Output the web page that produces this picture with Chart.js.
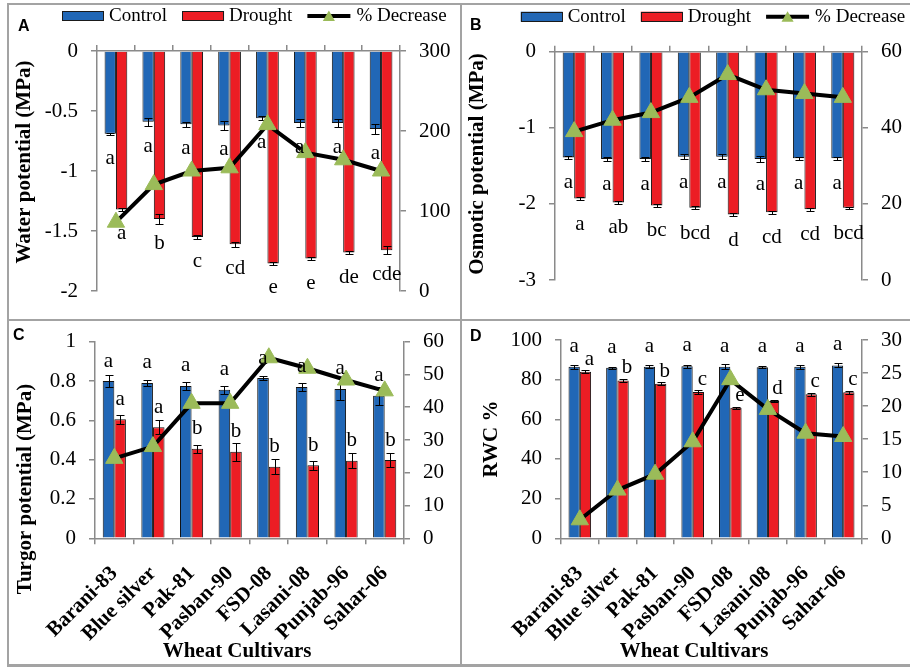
<!DOCTYPE html>
<html><head><meta charset="utf-8">
<script src="https://cdn.jsdelivr.net/npm/chart.js@4.4.0/dist/chart.umd.min.js"></script>
<style>
html,body{margin:0;padding:0;background:#fff;overflow:hidden;}
#wrap{position:relative;width:910px;height:667px;overflow:hidden;background:#fff;}
canvas{position:absolute;display:block;}
.ln{position:absolute;background:#a3a3a3;}
</style></head><body>
<div id="wrap">
<canvas id="cA" width="451" height="313" style="left:9px;top:5px"></canvas>
<canvas id="cB" width="446" height="313" style="left:462px;top:5px"></canvas>
<canvas id="cC" width="451" height="343" style="left:9px;top:321px"></canvas>
<canvas id="cD" width="446" height="343" style="left:462px;top:321px"></canvas>
<div class="ln" style="left:7px;top:3px;width:2px;height:663px"></div>
<div class="ln" style="left:7px;top:3px;width:903px;height:1.5px"></div>
<div class="ln" style="left:460px;top:3px;width:2px;height:663px"></div>
<div class="ln" style="left:7px;top:318.5px;width:903px;height:2px"></div>
<div class="ln" style="left:7px;top:664px;width:903px;height:3px"></div>
</div>
<script>
// ---------- data ----------
const categories = ['Barani-83','Blue silver','Pak-81','Pasban-90','FSD-08','Lasani-08','Punjab-96','Sahar-06'];
const seriesNames = ['Control','Drought','% Decrease'];

// A: water potential
const waterControl = [-0.69, -0.59, -0.61, -0.62, -0.56, -0.60, -0.60, -0.65];
const waterControlErr = [0.01, 0.035, 0.02, 0.04, 0.015, 0.035, 0.035, 0.045];
const waterDrought = [-1.32, -1.40, -1.55, -1.61, -1.77, -1.73, -1.68, -1.66];
const waterDroughtErr = [0.012, 0.04, 0.015, 0.02, 0.01, 0.01, 0.012, 0.035];
const waterDecrease = [86, 133, 150, 154, 208, 173, 164, 150];
const waterControlLetters = ['a','a','a','a','a','a','a','a'];
const waterDroughtLetters = ['a','b','c','cd','e','e','de','cde'];
const waterTicks = [-2, -1.5, -1, -0.5, 0];
const waterPctTicks = [0, 100, 200, 300];

// B: osmotic potential
const osmoControl = [-1.39, -1.41, -1.41, -1.38, -1.38, -1.41, -1.40, -1.40];
const osmoControlErr = [0.02, 0.03, 0.03, 0.03, 0.03, 0.04, 0.02, 0.02];
const osmoDrought = [-1.93, -1.98, -2.02, -2.05, -2.14, -2.11, -2.07, -2.05];
const osmoDroughtErr = [0.015, 0.015, 0.015, 0.02, 0.025, 0.02, 0.02, 0.015];
const osmoDecrease = [39, 42, 44, 48, 54, 50, 49, 48];
const osmoControlLetters = ['a','a','a','a','a','a','a','a'];
const osmoDroughtLetters = ['a','ab','bc','bcd','d','cd','cd','bcd'];
const osmoTicks = [-3, -2, -1, 0];
const osmoPctTicks = [0, 20, 40, 60];

// C: turgor potential
const turgorControl = [0.80, 0.79, 0.775, 0.755, 0.815, 0.77, 0.76, 0.725];
const turgorControlErr = [0.03, 0.015, 0.02, 0.02, 0.008, 0.022, 0.055, 0.045];
const turgorDrought = [0.605, 0.565, 0.456, 0.44, 0.364, 0.371, 0.395, 0.398];
const turgorDroughtErr = [0.022, 0.037, 0.02, 0.046, 0.038, 0.024, 0.037, 0.037];
const turgorDecrease = [24.4, 28, 41.2, 41.2, 55.1, 51.9, 48.3, 45];
const turgorControlLetters = ['a','a','a','a','a','a','a','a'];
const turgorDroughtLetters = ['a','a','b','b','b','b','b','b'];
const turgorTicks = [0, 0.2, 0.4, 0.6, 0.8, 1];
const turgorPctTicks = [0, 10, 20, 30, 40, 50, 60];

// D: relative water content
const rwcControl = [86.5, 86, 86.5, 86.8, 86.5, 86.2, 86.5, 87.2];
const rwcControlErr = [1, 0.4, 0.8, 0.8, 1.2, 0.5, 1, 1];
const rwcDrought = [84, 79.6, 78, 73.8, 65.8, 69.3, 72.6, 73.6];
const rwcDroughtErr = [0.8, 0.8, 0.8, 0.8, 0.6, 0.4, 0.8, 0.8];
const rwcDecrease = [2.8, 7.3, 9.7, 14.6, 24, 19.5, 15.9, 15.4];
const rwcControlLetters = ['a','a','a','a','a','a','a','a'];
const rwcDroughtLetters = ['a','b','b','c','e','d','c','c'];
const rwcTicks = [0, 20, 40, 60, 80, 100];
const rwcPctTicks = [0, 5, 10, 15, 20, 25, 30];

const xTitle = 'Wheat Cultivars';
const yTitles = {A:'Water potential (MPa)', B:'Osmotic potential (MPa)', C:'Turgor potential (MPa)', D:'RWC %'};

// ---------- style ----------
const SERIF = "'Liberation Serif','Times New Roman',serif";
const SANS = "'Liberation Sans',Arial,sans-serif";
const COL = {control:'#2167B6', drought:'#EC1D24', green:'#9BBB59', axis:'#8a8a8a'};
Chart.defaults.font.family = SERIF;
Chart.defaults.color = '#000';

const decoCfg = {
  cA:{letter:'A', lx:9, ly:26, legend:{x:53, y:11}, yT:{x:16, y:157}, xT:null},
  cB:{letter:'B', lx:8, ly:25, legend:{x:58.7, y:11.7}, yT:{x:16, y:159}, xT:null},
  cC:{letter:'C', lx:4, ly:19, legend:null, yT:{x:17, y:168}, xT:{x:228, y:331}},
  cD:{letter:'D', lx:8, ly:20, legend:null, yT:{x:30, y:118}, xT:{x:232, y:331}}
};

const deco = {
  id:'deco',
  afterDatasetDraw(chart, args){
    const meta = args.meta;
    if (meta.type !== 'bar') return;
    const ds = chart.data.datasets[args.index];
    if (!ds.errors) return;
    const ys = chart.scales[meta.yAxisID];
    const ctx = chart.ctx;
    ctx.save();
    ctx.strokeStyle = '#000'; ctx.lineWidth = 1;
    meta.data.forEach((el, i) => {
      const v = ds.data[i], e = ds.errors[i];
      const y1 = Math.round(ys.getPixelForValue(v - e)) + 0.5;
      const y2 = Math.round(ys.getPixelForValue(v + e)) + 0.5;
      const x = Math.round(el.x) + 0.5;
      ctx.beginPath();
      ctx.moveTo(x, y1); ctx.lineTo(x, y2);
      ctx.moveTo(x - 4, y1); ctx.lineTo(x + 4, y1);
      ctx.moveTo(x - 4, y2); ctx.lineTo(x + 4, y2);
      ctx.stroke();
    });
    ctx.restore();
  },
  afterDatasetsDraw(chart){
    const ctx = chart.ctx;
    ctx.save();
    ctx.font = '21px ' + SERIF; ctx.fillStyle = '#000';
    ctx.textAlign = 'center'; ctx.textBaseline = 'alphabetic';
    chart.data.datasets.forEach((ds, di) => {
      if (!ds.letters) return;
      const meta = chart.getDatasetMeta(di);
      meta.data.forEach((el, i) => {
        ctx.fillText(ds.letters[i], el.x + ds.letterDx, el.y + ds.letterDy);
      });
    });
    ctx.restore();
  },
  afterDraw(chart){
    const cfg = decoCfg[chart.canvas.id];
    const ctx = chart.ctx;
    ctx.save();
    // panel letter
    ctx.font = 'bold 16px ' + SANS; ctx.fillStyle = '#000';
    ctx.textAlign = 'left'; ctx.textBaseline = 'alphabetic';
    ctx.fillText(cfg.letter, cfg.lx, cfg.ly);
    // legend
    if (cfg.legend) {
      let x = cfg.legend.x; const y = cfg.legend.y;
      ctx.font = '19px ' + SERIF; ctx.textBaseline = 'middle';
      chart.data.datasets.forEach(ds => {
        if (ds.type === 'bar') {
          ctx.fillStyle = ds.backgroundColor;
          ctx.fillRect(x, y - 5, 42, 10);
          ctx.strokeStyle = '#1a1a1a'; ctx.lineWidth = 1;
          ctx.strokeRect(Math.round(x) + 0.5, Math.round(y - 5) + 0.5, 41, 9);
          x += 47;
        } else {
          ctx.strokeStyle = ds.borderColor; ctx.lineWidth = 4;
          ctx.beginPath(); ctx.moveTo(x, y); ctx.lineTo(x + 43, y); ctx.stroke();
          const cx = x + 21.5, r = 7, cy = y + 1.5;
          ctx.fillStyle = ds.pointBackgroundColor;
          ctx.beginPath();
          ctx.moveTo(cx, cy - r);
          ctx.lineTo(cx + r * 0.866, cy + r / 2);
          ctx.lineTo(cx - r * 0.866, cy + r / 2);
          ctx.closePath(); ctx.fill();
          x += 49;
        }
        ctx.fillStyle = '#000';
        ctx.fillText(ds.label, x, y);
        x += ctx.measureText(ds.label).width + 15;
      });
    }
    // axis titles
    ctx.font = 'bold 21px ' + SERIF; ctx.fillStyle = '#000';
    ctx.textAlign = 'center'; ctx.textBaseline = 'middle';
    ctx.save();
    ctx.translate(cfg.yT.x, cfg.yT.y); ctx.rotate(-Math.PI / 2);
    ctx.fillText(yTitles[cfg.letter], 0, 0);
    ctx.restore();
    if (cfg.xT) ctx.fillText(xTitle, cfg.xT.x, cfg.xT.y);
    ctx.restore();
  }
};
Chart.register(deco);

function yAxis(pos, ticksArr, width){
  return {
    position: pos,
    min: Math.min(...ticksArr), max: Math.max(...ticksArr),
    afterBuildTicks: s => { s.ticks = ticksArr.slice().sort((a,b)=>a-b).map(v => ({value:v})); },
    ticks: {padding: 13, font:{family:SERIF, size:21}, color:'#000', callback: v => String(v)},
    grid: {drawOnChartArea:false, drawTicks:true, tickLength:6, color:COL.axis, lineWidth:1.5},
    border: {display:true, color:COL.axis, width:1.5},
    afterFit: s => { s.width = width; s.paddingTop = 0; s.paddingBottom = 0; }
  };
}

function makePanel(id, p){
  return new Chart(document.getElementById(id), {
    type:'bar',
    data:{
      labels: categories,
      datasets:[
        {type:'bar', label:seriesNames[0], data:p.control, errors:p.controlErr, letters:p.controlLetters,
         letterDx:p.cOff[0], letterDy:p.cOff[1],
         backgroundColor:COL.control, borderColor:'#111', borderWidth:1, yAxisID:'y', order:1,
         categoryPercentage:0.6, barPercentage:1},
        {type:'bar', label:seriesNames[1], data:p.drought, errors:p.droughtErr, letters:p.droughtLetters,
         letterDx:p.dOff[0], letterDy:p.dOff[1],
         backgroundColor:COL.drought, borderColor:'#111', borderWidth:1, yAxisID:'y', order:1,
         categoryPercentage:0.6, barPercentage:1},
        {type:'line', label:seriesNames[2], data:p.decrease, yAxisID:'y2', order:0,
         borderColor:'#000', borderWidth:4, tension:0, fill:false,
         pointStyle:'triangle', pointRadius:10, pointHoverRadius:10,
         pointBackgroundColor:COL.green, pointBorderColor:COL.green, pointBorderWidth:1}
      ]
    },
    options:{
      responsive:false, animation:false, devicePixelRatio:1,
      layout:{autoPadding:false, padding:{left:0, right:0, top:p.padTop, bottom:p.padBottom}},
      plugins:{legend:{display:false}, tooltip:{enabled:false}},
      scales:{
        x:{
          position:p.xPos, offset:true,
          grid:{offset:true, drawOnChartArea:false, drawTicks:true, tickLength:6, color:COL.axis, lineWidth:1.5},
          border:{display:true, color:COL.axis, width:1.5},
          ticks:{display:p.xLabels, autoSkip:false, minRotation:45, maxRotation:45, padding:17,
                 font:{family:SERIF, size:21, weight:'bold'}, color:'#000'},
          afterFit: s => { s.height = p.xH; s.paddingLeft = 0; s.paddingRight = 0; }
        },
        y: yAxis('left', p.yTicks, p.yW),
        y2: yAxis('right', p.y2Ticks, p.y2W)
      }
    }
  });
}

makePanel('cA', {control:waterControl, controlErr:waterControlErr, controlLetters:waterControlLetters,
  drought:waterDrought, droughtErr:waterDroughtErr, droughtLetters:waterDroughtLetters, decrease:waterDecrease,
  yTicks:waterTicks, y2Ticks:waterPctTicks, cOff:[0,30], dOff:[0,30],
  xPos:'top', xLabels:false, xH:46, yW:88, y2W:60, padTop:0, padBottom:27});

makePanel('cB', {control:osmoControl, controlErr:osmoControlErr, controlLetters:osmoControlLetters,
  drought:osmoDrought, droughtErr:osmoDroughtErr, droughtLetters:osmoDroughtLetters, decrease:osmoDecrease,
  yTicks:osmoTicks, y2Ticks:osmoPctTicks, cOff:[0,31], dOff:[0,31],
  xPos:'top', xLabels:false, xH:46.7, yW:93, y2W:46, padTop:0, padBottom:38});

makePanel('cC', {control:turgorControl, controlErr:turgorControlErr, controlLetters:turgorControlLetters,
  drought:turgorDrought, droughtErr:turgorDroughtErr, droughtLetters:turgorDroughtLetters, decrease:turgorDecrease,
  yTicks:turgorTicks, y2Ticks:turgorPctTicks, cOff:[0,-14.5], dOff:[0,-14.5],
  xPos:'bottom', xLabels:true, xH:125.7, yW:86, y2W:56, padTop:20.7, padBottom:0});

makePanel('cD', {control:rwcControl, controlErr:rwcControlErr, controlLetters:rwcControlLetters,
  drought:rwcDrought, droughtErr:rwcDroughtErr, droughtLetters:rwcDroughtLetters, decrease:rwcDecrease,
  yTicks:rwcTicks, y2Ticks:rwcPctTicks, cOff:[0,-15], dOff:[4,-7],
  xPos:'bottom', xLabels:true, xH:125.7, yW:99, y2W:46, padTop:19, padBottom:0});
</script>
</body></html>
